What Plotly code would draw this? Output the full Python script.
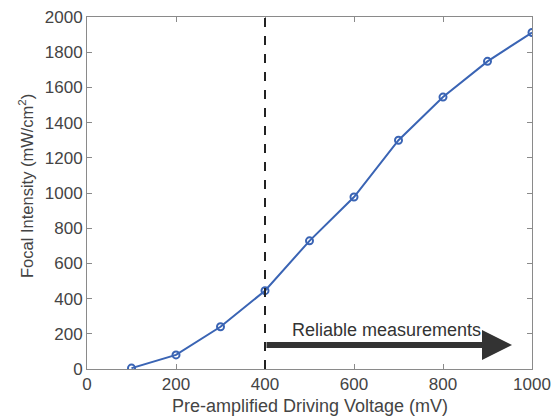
import plotly.graph_objects as go

voltage = [100, 200, 300, 400, 500, 600, 700, 800, 900, 1000]
intensity = [5, 80, 240, 445, 728, 977, 1300, 1545, 1748, 1912]
x_ticks = [0, 200, 400, 600, 800, 1000]
y_ticks = [0, 200, 400, 600, 800, 1000, 1200, 1400, 1600, 1800, 2000]
threshold = 400
arrow_start = 400
arrow_end = 955
arrow_level = 136
arrow_label = "Reliable measurements"
label_x = 674
label_y = 220
x_title = "Pre-amplified Driving Voltage (mV)"
y_title = "Focal Intensity (mW/cm<sup>2</sup>)"

line_color = "#3a64b4"
axis_color = "#8a8a8a"
text_color = "#444444"
font_family = "Liberation Sans, Arial, sans-serif"

fig = go.Figure()
fig.add_trace(go.Scatter(
    x=voltage, y=intensity, mode="lines+markers",
    line=dict(color=line_color, width=2),
    marker=dict(symbol="circle-open", size=7, color=line_color, line=dict(width=2)),
    showlegend=False,
))

fig.add_shape(type="line", x0=threshold, x1=threshold, y0=0, y1=2000,
              xref="x", yref="y", line=dict(color="#222222", width=2, dash="dash"))

fig.add_annotation(x=arrow_end, y=arrow_level, ax=arrow_start, ay=arrow_level,
                   xref="x", yref="y", axref="x", ayref="y",
                   showarrow=True, arrowhead=2, arrowwidth=6, arrowsize=1.0,
                   arrowcolor="#333333", text="")
fig.add_annotation(x=label_x, y=label_y, xref="x", yref="y", text=arrow_label,
                   showarrow=False, font=dict(size=18, color="#333333", family=font_family))

fig.add_annotation(x=-0.137, y=0.52, xref="paper", yref="paper", text=y_title,
                   textangle=-90, showarrow=False, xanchor="center", yanchor="middle",
                   font=dict(size=16.5, color=text_color, family=font_family))
fig.add_annotation(x=0.5, y=-0.106, xref="paper", yref="paper", text=x_title,
                   showarrow=False, xanchor="center", yanchor="middle",
                   font=dict(size=18, color=text_color, family=font_family))

axis_common = dict(
    showline=True, linecolor=axis_color, linewidth=1, mirror="ticks",
    ticks="inside", ticklen=5, tickcolor=axis_color, showgrid=False, zeroline=False,
    ticklabeloverflow="allow",
    tickfont=dict(size=17, color=text_color, family=font_family),
)
fig.update_xaxes(range=[0, 1000], tickvals=x_ticks, **axis_common)
fig.update_yaxes(range=[0, 2000], tickvals=y_ticks, **axis_common)

fig.update_layout(
    width=552, height=418,
    margin=dict(l=87, r=20, t=17, b=49, autoexpand=False),
    plot_bgcolor="white", paper_bgcolor="white",
    font=dict(family=font_family),
)

fig.write_html("out.html", config={"displayModeBar": False},
               post_script="document.body.style.margin='0';document.body.style.overflow='hidden';")
